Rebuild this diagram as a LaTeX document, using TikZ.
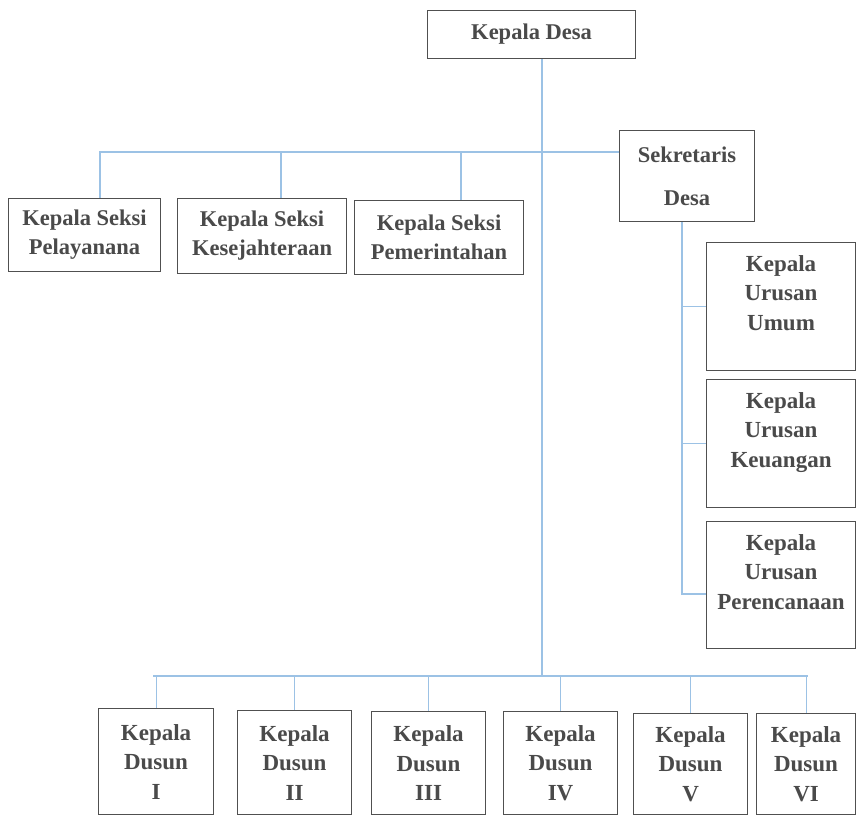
\documentclass[tikz,border=0pt]{standalone}
\usepackage{fontspec}
\setmainfont{Liberation Serif}
\definecolor{boxgray}{HTML}{505050}
\definecolor{txtgray}{HTML}{4A4A4A}
\definecolor{linkblue}{HTML}{9CC2E5}
\begin{document}
\begin{tikzpicture}[x=1pt,y=-1pt,
  box/.style={draw=boxgray, line width=1.1pt, fill=white, inner sep=0pt,
    anchor=north west, align=center, text=txtgray,
    font=\fontsize{22.5}{29}\selectfont\bfseries},
  bigbox/.style={box, font=\fontsize{23}{29.5}\selectfont\bfseries},
  urtext/.style={anchor=north, inner sep=0pt, align=center, text=txtgray,
    font=\fontsize{23}{29.5}\selectfont\bfseries},
  link/.style={draw=linkblue, line width=1.1pt},
]
\useasboundingbox (0,0) rectangle (857,816);

% head and secretary
\node[box, minimum width=208pt, minimum height=48pt] (desa) at (427,10) {Kepala Desa};
\node[box, minimum width=135pt, minimum height=91pt] (sek) at (619,130) {Sekretaris\\[14pt]Desa};

% section heads
\node[box, minimum width=152pt, minimum height=73pt] (s1) at (8,198) {Kepala Seksi\\Pelayanana};
\node[box, minimum width=169pt, minimum height=75pt] (s2) at (177,198) {Kepala Seksi\\Kesejahteraan};
\node[box, minimum width=169pt, minimum height=74pt] (s3) at (354,200) {Kepala Seksi\\Pemerintahan};

% affairs heads under the secretary
\node[box, minimum width=149pt, minimum height=128pt,
  label={[urtext, yshift=-13pt]north:{Kepala\\Urusan\\Umum}}] (u1) at (706,242) {};
\node[box, minimum width=149pt, minimum height=128pt,
  label={[urtext, yshift=-13pt]north:{Kepala\\Urusan\\Keuangan}}] (u2) at (706,379) {};
\node[box, minimum width=149pt, minimum height=127pt,
  label={[urtext, yshift=-13pt]north:{Kepala\\Urusan\\Perencanaan}}] (u3) at (706,521) {};

% hamlet heads
\node[bigbox, minimum width=115pt, minimum height=106pt] (d1) at (98,708) {Kepala\\Dusun\\I};
\node[bigbox, minimum width=114pt, minimum height=104pt] (d2) at (237,710) {Kepala\\Dusun\\II};
\node[bigbox, minimum width=114pt, minimum height=103pt] (d3) at (371,711) {Kepala\\Dusun\\III};
\node[bigbox, minimum width=114pt, minimum height=103pt] (d4) at (503,711) {Kepala\\Dusun\\IV};
\node[bigbox, minimum width=114pt, minimum height=101pt] (d5) at (633,713) {Kepala\\Dusun\\V};
\node[bigbox, minimum width=99pt, minimum height=101pt] (d6) at (756,713) {Kepala\\Dusun\\VI};

% junction points
\coordinate (hub) at (542,152);
\coordinate (bus) at (542,676);
\coordinate (lft) at (100,152);
\coordinate (k2) at (281,152);
\coordinate (k3) at (461,152);
\coordinate (sv) at (682,594);
\coordinate (busl) at (153,676);
\coordinate (busr) at (808,676);

% main trunk
\draw[link] (desa.south -| hub) -- (bus);
% section bar
\draw[link] (s1.north -| lft) -- (lft) -- (sek.west |- lft);
\draw[link] (k2) -- (s2.north -| k2);
\draw[link] (k3) -- (s3.north -| k3);
% secretary branch
\draw[link] (sek.south -| sv) -- (sv) -- (u3.west |- sv);
\draw[link] (u1.west -| sv) -- (u1.west);
\draw[link] (u2.west -| sv) -- (u2.west);
% hamlet bar
\draw[link] (busl) -- (busr);
\draw[link] (d1.north |- busl) -- (d1.north);
\draw[link] (d2.north |- busl) -- (d2.north);
\draw[link] (d3.north |- busl) -- (d3.north);
\draw[link] (d4.north |- busl) -- (d4.north);
\draw[link] (d5.north |- busl) -- (d5.north);
\draw[link] (d6.north |- busl) -- (d6.north);
\end{tikzpicture}
\end{document}
